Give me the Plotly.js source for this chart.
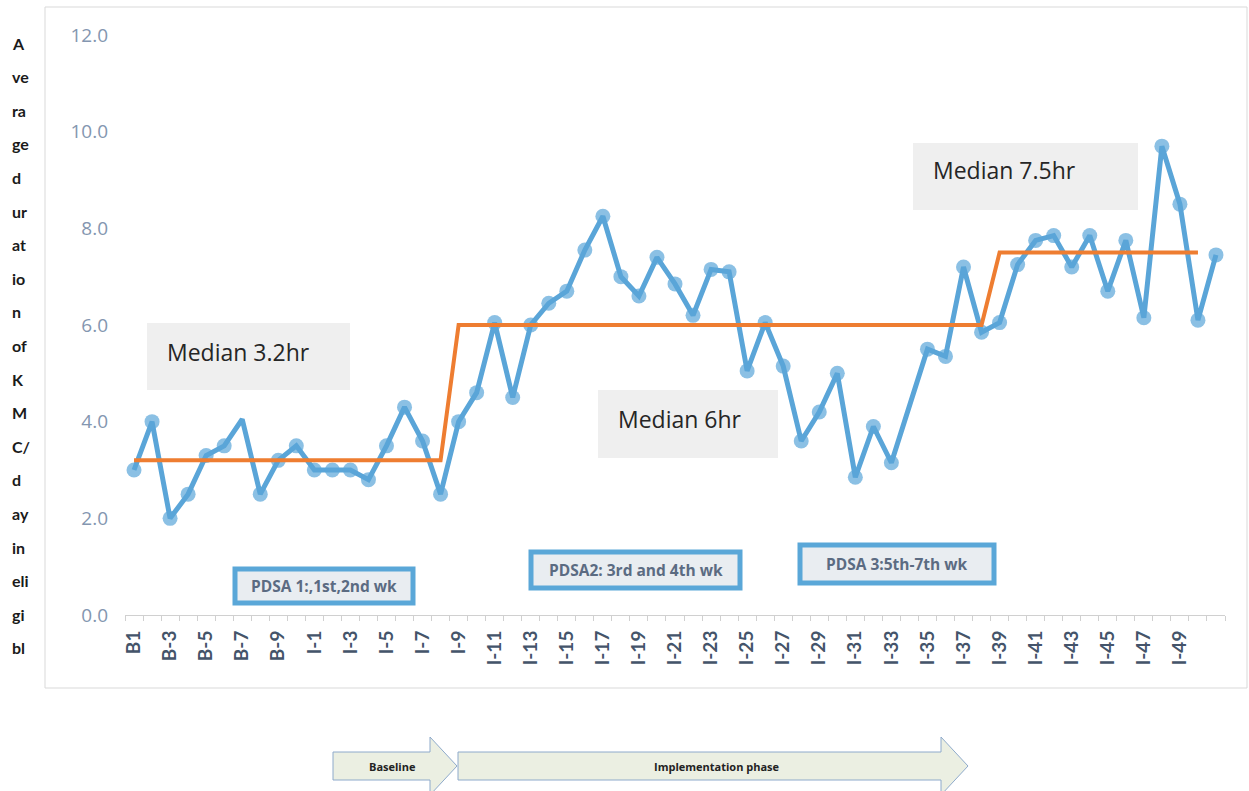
<!DOCTYPE html>
<html>
<head>
<meta charset="utf-8">
<script src="https://cdn.plot.ly/plotly-3.0.1.min.js"></script>
<style>html,body{margin:0;padding:0;background:#fff;}#chart{width:1249px;height:791px;}</style>
</head>
<body>
<div id="chart"></div>
<script>
// ---- data ----
const categories = ["B1","B-2","B-3","B-4","B-5","B-6","B-7","B-8","B-9","B-10",
  "I-1","I-2","I-3","I-4","I-5","I-6","I-7","I-8","I-9","I-10",
  "I-11","I-12","I-13","I-14","I-15","I-16","I-17","I-18","I-19","I-20",
  "I-21","I-22","I-23","I-24","I-25","I-26","I-27","I-28","I-29","I-30",
  "I-31","I-32","I-33","I-34","I-35","I-36","I-37","I-38","I-39","I-40",
  "I-41","I-42","I-43","I-44","I-45","I-46","I-47","I-48","I-49","I-50","I-51"];
const durations = [3.0,4.0,2.0,2.5,3.3,3.5,4.05,2.5,3.2,3.5,
  3.0,3.0,3.0,2.8,3.5,4.3,3.6,2.5,4.0,4.6,
  6.05,4.5,6.0,6.45,6.7,7.55,8.25,7.0,6.6,7.4,
  6.85,6.2,7.15,7.1,5.05,6.05,5.15,3.6,4.2,5.0,
  2.85,3.9,3.15,null,5.5,5.35,7.2,5.85,6.05,7.25,
  7.75,7.85,7.2,7.85,6.7,7.75,6.15,9.7,8.5,6.1,7.45];
const medianLine = [3.2,3.2,3.2,3.2,3.2,3.2,3.2,3.2,3.2,3.2,
  3.2,3.2,3.2,3.2,3.2,3.2,3.2,3.2,6.0,6.0,
  6.0,6.0,6.0,6.0,6.0,6.0,6.0,6.0,6.0,6.0,
  6.0,6.0,6.0,6.0,6.0,6.0,6.0,6.0,6.0,6.0,
  6.0,6.0,6.0,6.0,6.0,6.0,6.0,6.0,7.5,7.5,
  7.5,7.5,7.5,7.5,7.5,7.5,7.5,7.5,7.5,7.5,null];
const hiddenMarkers = ["B-7"];
const tickLabels = ["B1","","B-3","","B-5","","B-7","","B-9","",
  "I-1","","I-3","","I-5","","I-7","","I-9","",
  "I-11","","I-13","","I-15","","I-17","","I-19","",
  "I-21","","I-23","","I-25","","I-27","","I-29","",
  "I-31","","I-33","","I-35","","I-37","","I-39","",
  "I-41","","I-43","","I-45","","I-47","","I-49","",""];
const yTickVals = [0,2,4,6,8,10,12];
const yTickText = ["0.0","2.0","4.0","6.0","8.0","10.0","12.0"];
const yTitleParts = ["A","ve","ra","ge","d","ur","at","io","n","of","K","M","C/","d","ay","in","eli","gi","bl"];
const medianLabels = ["Median 3.2hr","Median 6hr","Median 7.5hr"];
const pdsaLabels = ["PDSA 1:,1st,2nd wk","PDSA2: 3rd and 4th wk","PDSA 3:5th-7th wk"];
const phaseLabels = ["Baseline","Implementation phase"];

// ---- pixel -> paper helpers (plot area 125..1225 x, 35..615 y) ----
const L=125, R=24, T=35, B=176, W=1249, H=791;
const PW = W-L-R, PH = H-T-B;
const px = x => (x-L)/PW;
const py = y => (T+PH-y)/PH;

const shapes = [];
const annotations = [];

// outer chart border
shapes.push({type:'rect',xref:'paper',yref:'paper',x0:px(45),x1:px(1247),y0:py(688),y1:py(7),
  line:{color:'#d9d9d9',width:1},fillcolor:'rgba(0,0,0,0)',layer:'below'});

// median boxes
const medBoxes = [[147,350,323,390,165,352],[598,778,390,458,616,419],[913,1138,143,210,931,170]];
medBoxes.forEach((b,i)=>{
  shapes.push({type:'rect',xref:'paper',yref:'paper',x0:px(b[0]),x1:px(b[1]),y0:py(b[3]),y1:py(b[2]),
    fillcolor:'#efefef',line:{width:0},layer:'below'});
  annotations.push({xref:'paper',yref:'paper',x:px(b[4]),y:py(b[5]),xanchor:'left',yanchor:'middle',
    text:medianLabels[i],showarrow:false,font:{family:'Open Sans, sans-serif',size:23,color:'#262626'}});
});

// PDSA boxes
const pdsaBoxes = [[235,413,569,603],[531,740,552,588],[800,994,545,583]];
pdsaBoxes.forEach((b,i)=>{
  shapes.push({type:'rect',xref:'paper',yref:'paper',x0:px(b[0]),x1:px(b[1]),y0:py(b[3]),y1:py(b[2]),
    fillcolor:'#e9edf1',line:{color:'#5aa7d8',width:5}});
  annotations.push({xref:'paper',yref:'paper',x:px((b[0]+b[1])/2),y:py((b[2]+b[3])/2),xanchor:'center',yanchor:'middle',
    text:'<b>'+pdsaLabels[i]+'</b>',showarrow:false,font:{family:'Open Sans, sans-serif',size:15.5,color:'#5b6b82'}});
});

// phase arrows
function arrowPath(x0,xh,xt,ys0,ys1,yh0,yh1){
  const ym=(ys0+ys1)/2;
  const pts=[[x0,ys0],[xh,ys0],[xh,yh0],[xt,ym],[xh,yh1],[xh,ys1],[x0,ys1]];
  return 'M '+pts.map(p=>px(p[0])+','+py(p[1])).join(' L ')+' Z';
}
shapes.push({type:'path',xref:'paper',yref:'paper',path:arrowPath(333,430,457,752,780,737,795),
  fillcolor:'#ebefe2',line:{color:'#8eaacb',width:1}});
shapes.push({type:'path',xref:'paper',yref:'paper',path:arrowPath(458,941,968,752,780,737,795),
  fillcolor:'#ebefe2',line:{color:'#8eaacb',width:1}});
annotations.push({xref:'paper',yref:'paper',x:px(392),y:py(766),xanchor:'center',yanchor:'middle',text:'<b>'+phaseLabels[0]+'</b>',showarrow:false,
  font:{family:'Liberation Sans Narrow, Open Sans, sans-serif',size:11,color:'#222'}});
annotations.push({xref:'paper',yref:'paper',x:px(717),y:py(766),xanchor:'center',yanchor:'middle',text:'<b>'+phaseLabels[1]+'</b>',showarrow:false,
  font:{family:'Liberation Sans Narrow, Open Sans, sans-serif',size:11,color:'#222'}});

// stacked y-axis title fragments
yTitleParts.forEach((t,i)=>{
  annotations.push({xref:'paper',yref:'paper',x:px(10),y:py(43+i*33.6),xanchor:'left',yanchor:'middle',
    text:'<b>'+t+'</b>',showarrow:false,font:{family:'Liberation Sans Narrow, Lato, sans-serif',size:16,color:'#1a1a1a'}});
});

const markerSizes = categories.map(c => hiddenMarkers.includes(c) ? 0 : 15);

const traces = [
  {x:categories,y:durations,type:'scatter',mode:'lines+markers',connectgaps:true,
   line:{color:'#5aa5d8',width:5},marker:{color:'#5aa5d8',size:markerSizes,line:{width:0}},hoverinfo:'x+y'},
  {x:categories,y:medianLine,type:'scatter',mode:'lines',
   line:{color:'#ee7d31',width:4},hoverinfo:'skip'}
];

const layout = {
  width:W,height:H,margin:{l:L,r:R,t:T,b:B},
  paper_bgcolor:'#ffffff',plot_bgcolor:'#ffffff',showlegend:false,
  xaxis:{type:'category',categoryorder:'array',categoryarray:categories,range:[-0.5,categories.length-0.5],
    tickmode:'array',tickvals:categories,ticktext:tickLabels,tickangle:-90,tickson:'boundaries',
    ticks:'outside',ticklen:5,tickcolor:'#d0d0d0',showline:true,linecolor:'#d0d0d0',linewidth:1,
    showgrid:false,zeroline:false,ticklabelstandoff:7,
    tickfont:{family:'Lato, Open Sans, sans-serif',size:19,color:'#44546a',weight:'bold'}},
  yaxis:{range:[0,12],tickmode:'array',tickvals:yTickVals,ticktext:yTickText,showgrid:false,zeroline:false,
    showline:false,ticks:'',ticklabelstandoff:16,
    tickfont:{family:'Open Sans, sans-serif',size:19,color:'#8496b0'}},
  shapes:shapes,annotations:annotations
};

Plotly.newPlot('chart',traces,layout,{displayModeBar:false,staticPlot:true});
</script>
</body>
</html>
